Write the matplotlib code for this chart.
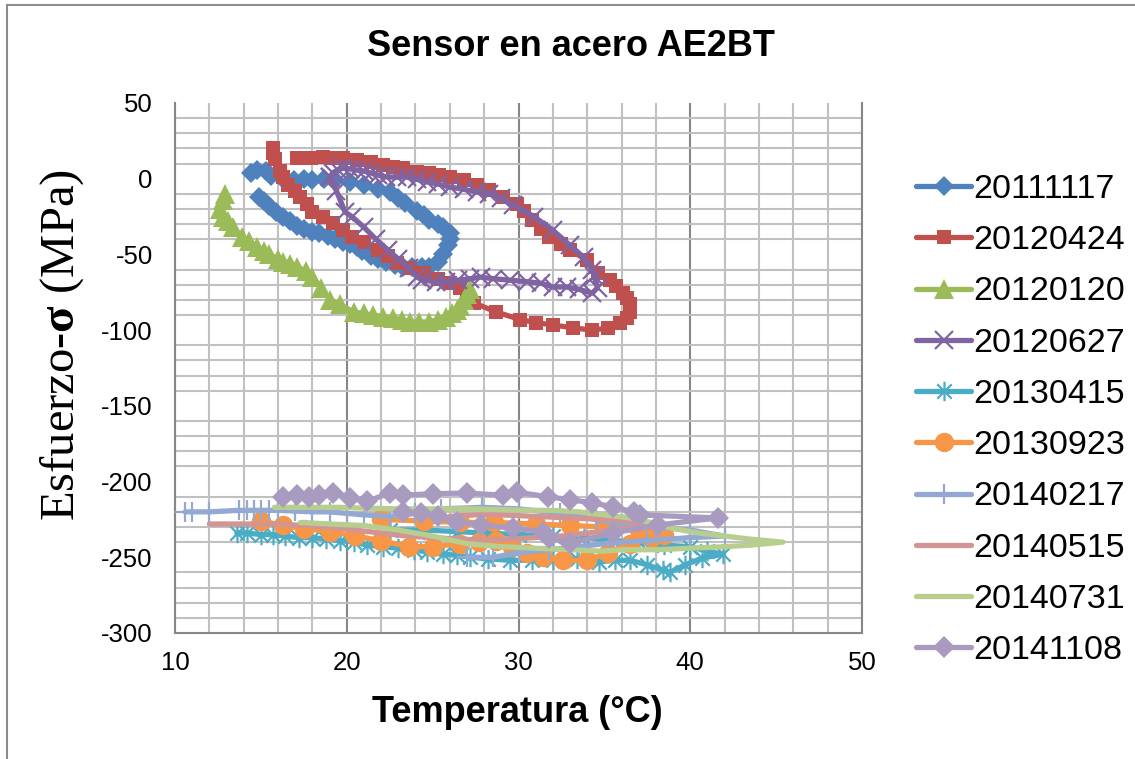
import matplotlib
matplotlib.use("Agg")
import matplotlib.pyplot as plt
from matplotlib.lines import Line2D
from matplotlib.path import Path

plt.rcParams['font.family'] = ['Liberation Sans', 'DejaVu Sans']
plt.rcParams['mathtext.fontset'] = 'custom'
plt.rcParams['mathtext.rm'] = 'Liberation Serif'
plt.rcParams['mathtext.bf'] = 'Liberation Serif:bold'
plt.rcParams['axes.unicode_minus'] = False

# ---------------- data ----------------
labels = ['20111117', '20120424', '20120120', '20120627', '20130415',
          '20130923', '20140217', '20140515', '20140731', '20141108']

t_20111117 = [14.4, 14.8, 15.3, 15.6, 16.2, 16.9, 17.5, 18.0, 18.7, 19.3, 20.2, 21.0,
              21.8, 22.5, 23.0, 23.4, 24.1, 24.5, 24.8, 25.3, 25.6, 26.0, 26.0, 25.9,
              25.6, 25.3, 24.8, 24.4, 23.8, 23.3, 22.8, 22.3, 21.8, 21.4, 20.9, 20.6,
              20.2, 19.8, 19.3, 18.9, 18.4, 18.0, 17.5, 17.1, 16.7, 16.3, 15.9, 15.5,
              15.2, 14.9]
s_20111117 = [4, 6, 5, 2, 1, -1, 0, -1, 0, -1, -2, -4,
              -7, -9, -13, -16, -21, -24, -27, -30, -32, -36, -40, -44,
              -50, -55, -58, -58, -58, -58, -57, -55, -53, -51, -48, -45,
              -43, -42, -40, -38, -36, -35, -33, -31, -28, -25, -22, -18,
              -15, -12]

t_20120424 = [15.7, 15.7, 15.8, 16.1, 16.3, 16.6, 17.0, 17.3, 17.7, 18.0, 18.6, 19.2,
              19.8, 20.3, 21.0, 21.8, 22.4, 22.9, 23.7, 24.5, 25.3, 26.0, 26.6, 27.0,
              27.4, 28.7, 30.1, 31.0, 32.0, 33.2, 34.3, 35.2, 35.9, 36.3, 36.5, 36.5,
              36.3, 36.1, 35.7, 35.3, 34.6, 34.0, 33.0, 32.5, 31.8, 31.3, 30.8, 30.3,
              29.9, 29.1, 28.3, 27.6, 26.8, 26.0, 25.4, 24.8, 24.1, 23.3, 22.7, 22.1,
              21.4, 20.6, 19.8, 19.2, 18.6, 17.9, 17.1]
s_20120424 = [20, 17, 13, 5, 1, -4, -8, -12, -17, -22, -25, -29,
              -34, -38.5, -42, -47, -51, -55.7, -59, -62, -66, -69, -72, -78,
              -82, -88, -93, -95, -96.6, -98.5, -100, -98.6, -95, -92, -88, -83,
              -79, -75.5, -71, -67, -62, -54, -47, -43, -38.5, -33, -27, -21,
              -17, -12, -7.5, -4, -1, 1, 2.5, 3.8, 4.4, 7, 8, 9,
              11, 12.4, 13.7, 14, 14.3, 14, 13.7]

t_20120120 = [12.9, 12.8, 12.6, 12.8, 13.1, 13.4, 13.9, 14.3, 14.8, 15.2, 15.5, 16.0,
              16.3, 16.7, 17.1, 17.6, 18.0, 18.5, 19.0, 19.6, 20.4, 21.0, 21.5, 22.1,
              22.7, 23.2, 23.7, 24.2, 24.8, 25.3, 25.8, 26.1, 26.4, 26.6, 26.8, 27.0,
              27.2]
s_20120120 = [-10, -14, -20, -25, -28, -32, -38.5, -41, -45, -48, -50, -53,
              -55, -56, -58, -61, -65, -72, -80, -83, -88, -89, -90, -91,
              -92, -93, -94.6, -94.6, -94.6, -93, -91, -89, -87, -84, -80, -76,
              -73]

t_20120627 = [19.0, 19.4, 19.9, 20.3, 21.0, 21.7, 22.4, 23.0, 23.6, 24.1, 24.4, 25.2,
              25.8, 26.5, 27.2, 27.8, 28.5, 29.5, 30.5, 31.3, 32.0, 32.8, 33.5, 34.3,
              34.6, 34.4, 34.3, 33.8, 33.0, 32.0, 30.9, 29.7, 29.0, 28.3, 27.6, 26.8,
              26.0, 25.3, 24.7, 24.1, 23.5, 22.9, 22.3, 21.8, 21.4, 21.0, 20.6, 20.2,
              19.8, 19.5, 19.2, 19.0]
s_20120627 = [1, -8, -22, -25, -32, -40, -47, -53, -59, -65, -67, -68,
              -68, -67, -66, -65, -66, -67, -68, -69, -71.5, -71.5, -73, -75.5,
              -72, -64, -60, -52, -44, -34, -25, -17.4, -13, -10, -8.8, -7,
              -5.5, -3.5, -2.2, -0.5, 1.1, 1, 1.2, 2.5, 3.8, 5, 5.7, 6.5,
              7, 6, 4, 1]

t_20130415 = [13.6, 14.2, 15.0, 15.7, 16.4, 17.2, 18.0, 18.8, 19.6, 20.4, 21.2, 22.1,
              23.0, 23.9, 24.7, 25.6, 26.4, 27.2, 28.2, 29.5, 30.8, 32.0, 33.4, 34.7,
              35.6, 36.5, 37.5, 38.4, 38.8, 39.7, 40.7, 41.9, 41.0, 40.0, 38.5, 37.0,
              35.5, 33.8, 32.0, 30.0, 28.0, 26.4, 24.5, 22.5]
s_20130415 = [-234, -234, -235, -235, -236, -237, -237, -238, -239, -240, -242, -243,
              -244, -245, -246.6, -248, -248.6, -250, -251, -252, -252, -252, -251, -253,
              -252, -252, -255, -258.5, -260, -255, -250.5, -248, -246, -243, -242, -240,
              -239, -237, -236, -235, -234, -233, -232, -232]

t_20130923 = [15.0, 16.3, 17.5, 19.0, 20.5, 22.0, 23.6, 25.0, 26.6, 27.7, 28.7, 29.6,
              30.5, 31.4, 32.6, 34.0, 35.2, 36.5, 37.7, 38.5, 37.0, 35.0, 33.0, 31.0,
              28.6, 26.6, 24.5, 22.0]
s_20130923 = [-226, -229, -231, -233, -236, -239, -243, -243, -241, -240, -239, -243,
              -247, -250, -252, -252, -247, -241, -237, -235, -232, -230, -229, -228,
              -227, -227, -226, -225]

t_20140217 = [10.6, 11.0, 12.0, 13.7, 14.2, 14.6, 15.0, 15.5, 16.0, 17.0, 18.0, 19.0,
              20.0, 21.0, 22.5, 24.0, 25.5, 27.9, 30.0, 32.4, 34.5, 36.0, 38.0, 40.0,
              42.0, 40.0, 37.5, 35.3, 33.5, 31.8, 30.0, 28.5, 27.0]
s_20140217 = [-220, -220, -220, -219, -219, -219, -219, -219, -219, -219.5, -220, -220,
              -221, -222, -223, -221, -218, -217, -218, -221, -225, -228, -230, -232,
              -236, -237, -239, -240.6, -243, -245, -247, -250, -250]

t_20140515 = [12.0, 14.0, 15.8, 17.5, 19.0, 20.5, 22.0, 23.5, 25.0, 26.5, 28.0, 29.5,
              31.0, 32.5, 34.0, 35.5, 37.0, 38.0, 36.5, 35.0, 33.0, 31.0, 29.0, 27.5,
              26.0]
s_20140515 = [-228, -228, -228, -229, -230, -232, -234, -236, -237, -238, -238.6, -238,
              -237, -236, -234, -232, -230, -229, -226, -225, -224, -223, -222, -222,
              -223]

t_20140731 = [15.8, 17.5, 19.4, 21.0, 23.0, 25.0, 27.0, 29.0, 30.5, 32.0, 33.5, 35.0,
              36.5, 37.7, 39.0, 40.5, 42.0, 43.5, 45.4, 43.5, 42.0, 40.0, 38.0, 36.0,
              34.9, 33.0, 31.0, 29.0, 27.0, 25.0, 23.0, 21.0, 19.0, 17.3]
s_20140731 = [-217, -217, -217, -217.5, -218, -218, -218, -218.5, -219, -219, -220, -222,
              -224, -227, -231, -234, -236, -238, -240, -242, -243, -244, -245, -245,
              -246, -245, -244, -243, -241, -236, -232, -229, -228, -227]

t_20141108 = [16.3, 17.1, 17.8, 18.4, 19.2, 20.2, 21.2, 22.5, 23.3, 25.0, 27.0, 29.1,
              29.9, 31.7, 33.0, 34.3, 35.5, 36.7, 37.1, 41.6, 38.1, 35.5, 33.0, 31.8,
              31.4, 29.7, 27.8, 26.4, 25.3, 24.3, 23.3]
s_20141108 = [-210, -209, -210, -209, -207.6, -211, -213, -207.6, -209, -208, -207.6, -209,
              -207, -210, -212, -214, -216.8, -220, -222, -224, -228.7, -234, -240.6, -237,
              -233, -230.7, -228.7, -226.7, -223, -221, -220]

temps = [t_20111117, t_20120424, t_20120120, t_20120627, t_20130415,
         t_20130923, t_20140217, t_20140515, t_20140731, t_20141108]
stresses = [s_20111117, s_20120424, s_20120120, s_20120627, s_20130415,
            s_20130923, s_20140217, s_20140515, s_20140731, s_20141108]

x_ticks = [10, 20, 30, 40, 50]
y_ticks = [50, 0, -50, -100, -150, -200, -250, -300]

# ---------------- styles ----------------
asterisk = Path([(-1, -1), (1, 1), (-1, 1), (1, -1), (0, -1.35), (0, 1.35)],
                [Path.MOVETO, Path.LINETO, Path.MOVETO, Path.LINETO, Path.MOVETO, Path.LINETO])

styles = [
    dict(color='#4F81BD', marker='D', ms=10, mew=0),
    dict(color='#C0504D', marker='s', ms=9.5, mew=0),
    dict(color='#9BBB59', marker='^', ms=14, mew=0),
    dict(color='#8064A2', marker='x', ms=13, mew=1.6),
    dict(color='#4BACC6', marker=asterisk, ms=14, mew=1.6),
    dict(color='#F79646', marker='o', ms=14, mew=0),
    dict(color='#93A9D3', marker='+', ms=14, mew=1.6),
    dict(color='#D39593', marker='None', ms=0, mew=0),
    dict(color='#B7CE8F', marker='None', ms=0, mew=0),
    dict(color='#A99BC0', marker='D', ms=11, mew=0),
]

fig = plt.figure(figsize=(11.35, 7.59), dpi=100)
ax = fig.add_axes([175 / 1135, 1 - 633 / 759, 687 / 1135, 530 / 759])

handles = []
for t, s, lab, st in zip(temps, stresses, labels, styles):
    ln, = ax.plot(t, s, color=st['color'], lw=3.8, marker=st['marker'],
                  ms=st['ms'], mew=st['mew'], mec=st['color'], mfc=st['color'],
                  solid_joinstyle='round', solid_capstyle='round', label=lab,
                  clip_on=False, zorder=3)
    handles.append(ln)

ax.set_xlim(10, 50)
ax.set_ylim(-300, 50)
ax.set_xticks(x_ticks)
ax.set_yticks(y_ticks)
ax.set_xticks([v for v in range(12, 50, 2) if v % 10 != 0], minor=True)
ax.set_yticks([v for v in range(-290, 50, 10) if v % 50 != 0], minor=True)
ax.set_axisbelow(True)
ax.grid(which='minor', axis='both', color='#C0C0C0', lw=1.5)
ax.grid(which='major', axis='x', color='#878787', lw=1.5)
ax.grid(which='major', axis='y', visible=False)
ax.tick_params(which='both', length=0, labelsize=18.5)
ax.tick_params(axis='y', pad=16)
ax.tick_params(axis='x', pad=13)
for side in ['left', 'bottom', 'right']:
    ax.spines[side].set_color('#878787')
    ax.spines[side].set_linewidth(1.5)
ax.spines['top'].set_visible(False)

fig.text(571 / 1135, 1 - 47 / 759, 'Sensor en acero AE2BT', fontsize=26,
         fontweight='bold', ha='center', va='center')
fig.text(517 / 1135, 1 - 712 / 759, 'Temperatura (°C)', fontsize=26,
         fontweight='bold', ha='center', va='center')
fig.text(62 / 1135, 1 - 345 / 759, r'Esfuerzo-$\mathbf{σ}$ (MPa)', fontsize=35,
         family='Liberation Serif', rotation=90, ha='center', va='center')

fig.legend(handles=handles, labels=labels, loc='upper left',
           bbox_to_anchor=(916 / 1135, 1 - 174 / 759), frameon=False,
           fontsize=24.5, handlelength=1.62, handletextpad=0.05,
           labelspacing=0.595, borderpad=0, borderaxespad=0)

# chart frame
fig.add_artist(Line2D([7 / 1135, 7 / 1135], [0, 1 - 5 / 759], color='#8C8C8C', lw=1.5))
fig.add_artist(Line2D([7 / 1135, 1], [1 - 5 / 759, 1 - 5 / 759], color='#8C8C8C', lw=1.5))

fig.savefig('out.png', dpi=100)
